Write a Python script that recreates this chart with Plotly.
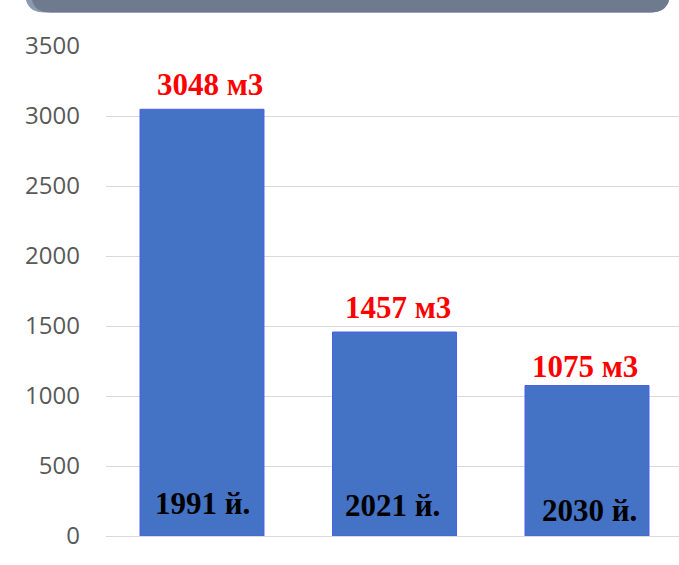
import plotly.graph_objects as go

categories = ["1991 й.", "2021 й.", "2030 й."]
values = [3048, 1457, 1075]
value_labels = ["3048 м3", "1457 м3", "1075 м3"]
tick_vals = [0, 500, 1000, 1500, 2000, 2500, 3000, 3500]

W, H = 679, 565
ML, MR, MT, MB = 106, 0, 46, 29
PW, PH = W - ML - MR, H - MT - MB

def px(x):
    return (x - ML) / PW

def py(y):
    return (H - MB - y) / PH

fig = go.Figure()
fig.add_trace(go.Bar(
    x=list(range(len(categories))), y=values, width=0.644,
    marker=dict(color="#4472C4", line=dict(color="#4a5cf2", width=1)),
    hoverinfo="skip", showlegend=False,
))

red_dx = [8, 4, -2]
red_dy = [5, 5, 0]
black_dx = [0, -2, 3]
black_dy = [13, 11, 6]
for i, (v, lab, cat) in enumerate(zip(values, value_labels, categories)):
    fig.add_annotation(x=i, y=v, text=f"<b>{lab}</b>", showarrow=False,
                       xanchor="center", yanchor="bottom",
                       xshift=red_dx[i], yshift=red_dy[i],
                       font=dict(family="Liberation Serif", size=31, color="#FF0000"))
    fig.add_annotation(x=i, y=0, text=f"<b>{cat}</b>", showarrow=False,
                       xanchor="center", yanchor="bottom",
                       xshift=black_dx[i], yshift=black_dy[i],
                       font=dict(family="Liberation Serif", size=31, color="#000000"))

# banner at top
def banner(L, R, B, r):
    return (f"M {px(L)},{py(-40)} L {px(L)},{py(B - r)} "
            f"Q {px(L)},{py(B)} {px(L + r)},{py(B)} "
            f"L {px(R - r)},{py(B)} Q {px(R)},{py(B)} {px(R)},{py(B - r)} "
            f"L {px(R)},{py(-40)} Z")

fig.add_shape(type="path", path=banner(25, 670, 12.5, 20), xref="paper", yref="paper",
              fillcolor="#8c99b2", line=dict(width=0), layer="above")
fig.add_shape(type="path", path=banner(31, 670, 12.5, 20), xref="paper", yref="paper",
              fillcolor="#6e7a8d", line=dict(width=0), layer="above")

fig.update_layout(
    width=W, height=H,
    margin=dict(l=ML, r=MR, t=MT, b=MB, pad=0),
    plot_bgcolor="white", paper_bgcolor="white",
    xaxis=dict(range=[-0.4987, 2.478], showticklabels=False, showgrid=False,
               zeroline=False, showline=False, fixedrange=True),
    yaxis=dict(range=[0, 3500], tickvals=tick_vals, showgrid=True,
               gridcolor="#d9d9d9", gridwidth=1, zeroline=True,
               zerolinecolor="#d9d9d9", zerolinewidth=1, showline=False,
               ticklabelstandoff=25,
               tickfont=dict(family="Open Sans", size=24, color="#595959")),
)

fig.write_html("out.html", config={"displayModeBar": False},
               post_script="document.body.style.margin='0';")
